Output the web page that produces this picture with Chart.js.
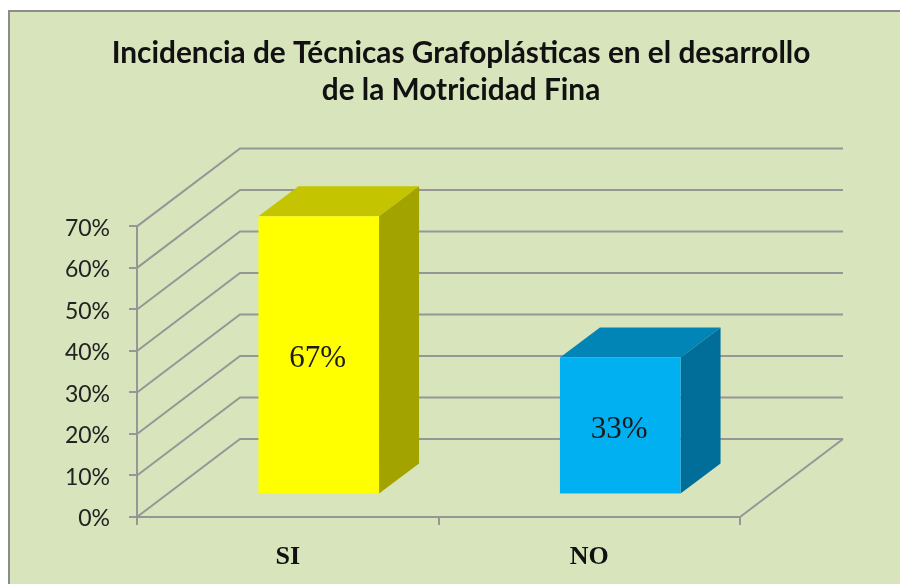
<!DOCTYPE html>
<html><head><meta charset="utf-8">
<style>
html,body{margin:0;padding:0;background:#fff;width:900px;height:584px;overflow:hidden}
#panel{position:absolute;left:8px;top:10px;width:892px;height:574px;background:#D8E4BC;border-top:2px solid #8c8c8c;border-left:2px solid #8c8c8c;box-sizing:border-box}
#wrap{position:absolute;left:0;top:0;width:900px;height:584px}
</style>
<script src="https://cdn.jsdelivr.net/npm/chart.js@4"></script>
</head><body>
<div id="panel"></div>
<div id="wrap"><canvas id="c" width="900" height="584"></canvas></div>
<script>
const titleLines = ['Incidencia de Técnicas Grafoplásticas en el desarrollo', 'de la Motricidad Fina'];
const categories = ['SI', 'NO'];
const values = [67, 33];
const frontColors = ['#FFFF00', '#00B0F0'];
const topColors = ['#C4C400', '#0085B6'];
const sideColors = ['#A3A300', '#006E98'];
const gridColor = '#969696';
const wallDepth = {dx: 103, dy: -78};
const barShift = {dx: 31, dy: -22.5};
const barDepth = {dx: 40, dy: -30};

const poly = (ctx, pts, fill) => {
  ctx.beginPath();
  pts.forEach((p, i) => i ? ctx.lineTo(p[0], p[1]) : ctx.moveTo(p[0], p[1]));
  ctx.closePath();
  ctx.fillStyle = fill;
  ctx.fill();
};

const walls = {
  id: 'walls',
  beforeDatasetsDraw(chart) {
    const {ctx, scales: {x, y}} = chart;
    const l = x.left, r = x.right;
    ctx.save();
    ctx.strokeStyle = gridColor;
    ctx.lineWidth = 2;
    y.ticks.forEach(t => {
      const py = y.getPixelForValue(t.value);
      ctx.beginPath();
      ctx.moveTo(l, py);
      ctx.lineTo(l + wallDepth.dx, py + wallDepth.dy);
      ctx.lineTo(r + wallDepth.dx, py + wallDepth.dy);
      ctx.stroke();
    });
    const py0 = y.getPixelForValue(0);
    ctx.beginPath();
    ctx.moveTo(r, py0);
    ctx.lineTo(r + wallDepth.dx, py0 + wallDepth.dy);
    ctx.stroke();
    ctx.restore();
  }
};

const box3d = {
  id: 'box3d',
  beforeDatasetDraw(chart, args) {
    const ctx = chart.ctx;
    ctx.save();
    ctx.translate(barShift.dx, barShift.dy);
    chart.getDatasetMeta(args.index).data.forEach((bar, i) => {
      const hw = bar.width / 2, L = bar.x - hw, R = bar.x + hw, T = bar.y, B = bar.base;
      const dx = barDepth.dx, dy = barDepth.dy;
      poly(ctx, [[L, T], [R, T], [R + dx, T + dy], [L + dx, T + dy]], topColors[i]);
      poly(ctx, [[R, T], [R + dx, T + dy], [R + dx, B + dy], [R, B]], sideColors[i]);
    });
  },
  afterDatasetDraw(chart, args) {
    const ctx = chart.ctx;
    ctx.fillStyle = '#1a1a1a';
    ctx.font = '31px "Liberation Serif"';
    ctx.textAlign = 'center';
    ctx.textBaseline = 'middle';
    chart.getDatasetMeta(args.index).data.forEach((bar, i) => {
      ctx.fillText(values[i] + '%', bar.x - 1, (bar.y + bar.base) / 2 + 4);
    });
    ctx.restore();
  }
};

new Chart(document.getElementById('c'), {
  type: 'bar',
  data: {
    labels: categories,
    datasets: [{
      data: values,
      backgroundColor: frontColors,
      categoryPercentage: 0.8,
      barPercentage: 0.5,
      borderWidth: 0
    }]
  },
  plugins: [walls, box3d],
  options: {
    responsive: false,
    animation: false,
    events: [],
    layout: {padding: {left: 22, right: 0, top: 0, bottom: 0}},
    plugins: {
      legend: {display: false},
      tooltip: {enabled: false},
      title: {
        display: true,
        text: titleLines,
        color: '#111',
        font: {family: 'Lato', size: 29.8, weight: 'bold', lineHeight: 1.24},
        padding: {top: 35, bottom: 117.5}
      }
    },
    scales: {
      x: {
        afterFit(s) { s.height = 67; },
        grid: {offset: true, drawOnChartArea: false, color: gridColor, lineWidth: 2, tickLength: 8},
        border: {color: gridColor, width: 2},
        ticks: {color: '#111', padding: 17, font: {family: 'Liberation Serif', size: 26, weight: 'bold'}}
      },
      y: {
        min: 0, max: 70,
        afterFit(s) { s.width = 115; },
        grid: {drawOnChartArea: false, color: gridColor, lineWidth: 2, tickLength: 8},
        border: {color: gridColor, width: 2},
        ticks: {stepSize: 10, color: '#222', padding: 19, labelOffset: 2, font: {family: 'Lato', size: 23}, callback: v => v + '%'}
      },
      y2: {
        position: 'right',
        display: true,
        afterFit(s) { s.width = 160; },
        grid: {display: false},
        border: {display: false},
        ticks: {display: false}
      }
    }
  }
});
</script>
</body></html>
